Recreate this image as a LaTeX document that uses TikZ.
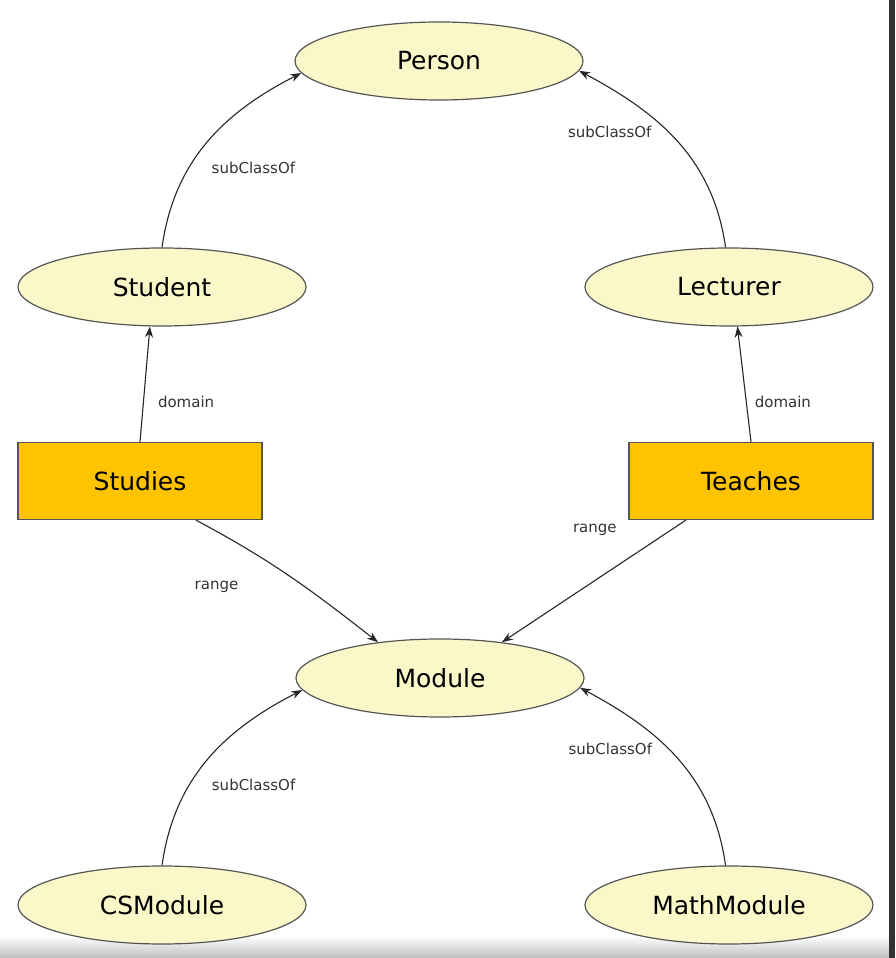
\documentclass[tikz,border=0pt]{standalone}
\usepackage{fontspec}
\setmainfont{DejaVu Sans}
\usetikzlibrary{positioning,arrows.meta,shapes.geometric}
\definecolor{classfill}{HTML}{FAF8C9}
\definecolor{propfill}{HTML}{FFC300}
\definecolor{edgegray}{HTML}{555555}
\begin{document}
\begin{tikzpicture}[x=0.5pt,y=0.5pt,
 cls/.style={ellipse,draw=edgegray,fill=classfill,line width=0.6pt,
 minimum width=144pt,minimum height=39pt,inner sep=0pt,font=\fontsize{12.5}{14}\selectfont},
 prop/.style={rectangle,draw=edgegray,fill=propfill,line width=0.6pt,
 minimum width=122pt,minimum height=38.5pt,inner sep=0pt,font=\fontsize{12.5}{14}\selectfont},
 arr/.style={-{Stealth[length=5.5pt,width=4pt]},line width=0.55pt,draw=black!85},
 lbl/.style={font=\fontsize{7.5}{9}\selectfont,text=black!80,inner sep=1pt}]
% background
\fill[white] (0,0) rectangle (895,958);
\shade[top color=white,bottom color=black!25] (0,0) rectangle (889,22);
\fill[black!80] (889,0) rectangle (895,958);
\useasboundingbox (0,0) rectangle (895,958);
% classes
\node[cls] (person) at (439,897) {Person};
\node[cls] (student) at (162,671) {Student};
\node[cls] (lecturer) at (729,671) {Lecturer};
\node[cls] (module) at (440,280) {Module};
\node[cls] (csmodule) at (162,53) {CSModule};
\node[cls] (mathmodule) at (729,53) {MathModule};
% properties
\node[prop] (studies) at (140,477) {Studies};
\node[prop] (teaches) at (751,477) {Teaches};
% subClassOf
\draw[arr] (student.north) to[out=82,in=207]
 node[lbl,pos=0.36,right=10pt] (sc1) {subClassOf} (person.185);
\draw[arr] (lecturer.95) to[out=98,in=-28]
 node[lbl,pos=0.56,left=7pt] (sc2) {subClassOf} (person.356);
\draw[arr] (csmodule.north) to[out=82,in=207]
 node[lbl,pos=0.36,right=10pt] (sc3) {subClassOf} (module.185);
\draw[arr] (mathmodule.95) to[out=98,in=-28]
 node[lbl,pos=0.56,left=7pt] (sc4) {subClassOf} (module.356);
% domain and range
\draw[arr] (studies.north) -- node[lbl,pos=0.35,right=6pt] (dom1) {domain} (student.253);
\draw[arr] (teaches.north) -- node[lbl,pos=0.35,right=3pt] (dom2) {domain} (lecturer.282);
\draw[arr] (studies.-35) to[out=-28,in=142]
 node[lbl,pos=0.3,below left=12pt and 7.5pt] (rng1) {range} (module.150);
\draw[arr] (teaches.211) --
 node[lbl,pos=0.08,left=26pt] (rng2) {range} (module.30);
\end{tikzpicture}
\end{document}
